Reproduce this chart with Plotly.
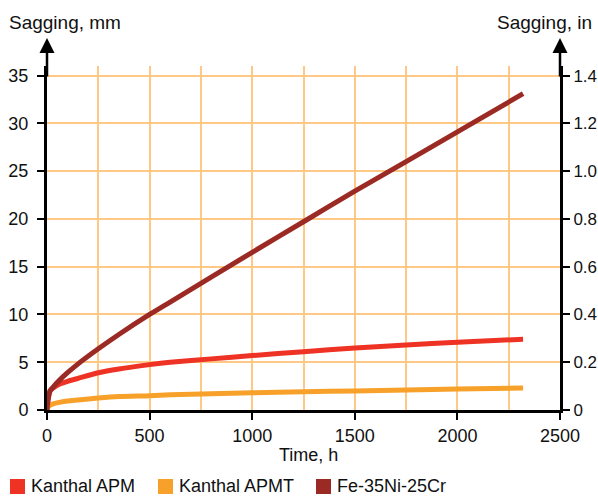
import plotly.graph_objects as go

# ---- data ----
time_h = [0, 5, 15, 30, 60, 100, 150, 250, 350, 500, 600, 800, 1000, 1250, 1500, 1750, 2000, 2320]
kanthal_apm = [0, 1.2, 2.0, 2.3, 2.7, 3.0, 3.3, 3.9, 4.3, 4.75, 5.0, 5.35, 5.7, 6.1, 6.5, 6.8, 7.1, 7.4]
kanthal_apmt = [0, 0.3, 0.5, 0.65, 0.8, 0.95, 1.05, 1.25, 1.4, 1.5, 1.6, 1.7, 1.8, 1.9, 2.0, 2.1, 2.2, 2.3]
fe_35ni_25cr = [0, 1.0, 2.0, 2.4, 3.1, 3.9, 4.8, 6.4, 7.9, 10.0, 11.3, 13.9, 16.5, 19.7, 22.9, 26.0, 29.1, 33.1]

series_names = ["Kanthal APM", "Kanthal APMT", "Fe-35Ni-25Cr"]
series_values = [kanthal_apm, kanthal_apmt, fe_35ni_25cr]
series_colors = ["#EE3224", "#F7A12A", "#9B2A24"]

x_ticks = [0, 500, 1000, 1500, 2000, 2500]
mm_ticks = [0, 5, 10, 15, 20, 25, 30, 35]
in_ticks = [0, 0.2, 0.4, 0.6, 0.8, 1.0, 1.2, 1.4]
in_labels = ["0", "0.2", "0.4", "0.6", "0.8", "1.0", "1.2", "1.4"]

# ---- layout geometry ----
W, H = 598, 497
L, R, T, B = 47, 38, 66, 87
PW, PH = W - L - R, H - T - B
FONT = "Helvetica, Liberation Sans, Arial, sans-serif"
GRID = "#FFC985"


def px(xp):
    return (xp - L) / PW


def py(yp):
    return (H - B - yp) / PH


fig = go.Figure()
for name, vals, col in zip(series_names, series_values, series_colors):
    fig.add_trace(go.Scatter(x=time_h, y=vals, mode="lines", name=name,
                             line=dict(color=col, width=5, shape="spline", smoothing=0.6),
                             showlegend=False))

# invisible trace to activate right axis
fig.add_trace(go.Scatter(x=[None], y=[None], yaxis="y2", showlegend=False))

common = dict(showline=True, linecolor="black", linewidth=3, ticks="outside", ticklen=7,
              tickwidth=1.5, tickcolor="black", zeroline=False, automargin=False)

fig.update_layout(
    width=W, height=H,
    margin=dict(l=L, r=R, t=T, b=B),
    paper_bgcolor="white", plot_bgcolor="white",
    font=dict(family=FONT, size=18, color="#111"),
    xaxis=dict(range=[0, 2500], tickvals=x_ticks, showgrid=True, gridcolor=GRID, gridwidth=2,
               minor=dict(dtick=250, tick0=0, showgrid=True, gridcolor=GRID, gridwidth=2),
               **common),
    yaxis=dict(range=[0, 36], tickvals=mm_ticks, showgrid=True, gridcolor=GRID, gridwidth=2,
               ticklabelstandoff=5, **common),
    yaxis2=dict(range=[0, 1.44], tickvals=in_ticks, ticktext=in_labels, overlaying="y",
                side="right", showgrid=False, ticklabelstandoff=0,
                tickfont=dict(size=17), **common),
    showlegend=False,
)

ann = []
# axis arrows
for xa in (0, 1):
    ann.append(dict(x=xa, y=py(38), xref="paper", yref="paper", ax=0, ay=40,
                    axref="pixel", ayref="pixel", showarrow=True, arrowhead=2,
                    arrowsize=1.2, arrowwidth=2.5, arrowcolor="black", text=""))
ann.append(dict(x=px(7), y=py(22), xref="paper", yref="paper", xanchor="left", yanchor="middle",
                text="Sagging, mm", showarrow=False, font=dict(size=19)))
ann.append(dict(x=px(594), y=py(22), xref="paper", yref="paper", xanchor="right", yanchor="middle",
                text="Sagging, in", showarrow=False, font=dict(size=19)))
ann.append(dict(x=px(308), y=py(455), xref="paper", yref="paper", xanchor="center", yanchor="middle",
                text="Time, h", showarrow=False, font=dict(size=18)))

shapes = []
leg_sq_x = [10, 158, 316]
leg_tx_x = [29, 177, 335]
for name, col, sx, tx in zip(series_names, series_colors, leg_sq_x, leg_tx_x):
    shapes.append(dict(type="rect", xref="paper", yref="paper", x0=px(sx), x1=px(sx + 15),
                       y0=py(494), y1=py(479), fillcolor=col, line=dict(width=0)))
    ann.append(dict(x=px(tx), y=py(486), xref="paper", yref="paper", xanchor="left",
                    yanchor="middle", text=name, showarrow=False, font=dict(size=18)))

fig.update_layout(annotations=ann, shapes=shapes)
fig.write_html("out.html")
